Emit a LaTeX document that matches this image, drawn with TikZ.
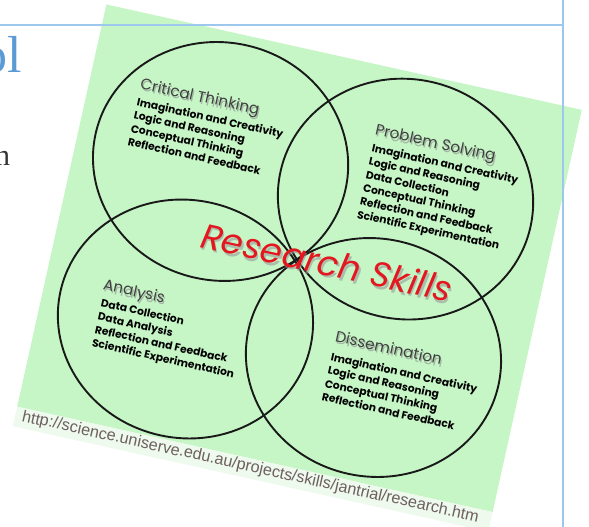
\documentclass[tikz,border=0pt]{standalone}
\usepackage{fontspec}
\setmainfont{Liberation Serif}
\newfontfamily\gothic{Poppins}
\newfontfamily\urlfam{Liberation Sans}
\definecolor{mint}{RGB}{198,246,198}
\definecolor{stripc}{RGB}{238,250,238}
\definecolor{slideline}{RGB}{157,200,238}
\definecolor{titleblue}{RGB}{91,155,213}
\definecolor{urlgray}{RGB}{110,95,96}
\definecolor{skillred}{RGB}{228,22,32}
\begin{document}
\begin{tikzpicture}[x=1pt,y=-1pt,
  circ/.style={draw=black!90, line width=1.9pt},
  ttl/.style={font=\gothic\fontsize{15.3}{18}\selectfont, text=black!75, anchor=north west, inner sep=0pt, transform shape},
  ttlsh/.style={ttl, text=black!45, opacity=0.6},
  items/.style={font=\gothic\bfseries\fontsize{10.7}{13.6}\selectfont, text=black, anchor=north west, align=left, inner sep=0pt, transform shape},
  rsk/.style={font=\gothic\itshape\fontsize{35}{38}\selectfont, transform shape},
  slide/.style={draw=slideline, line width=2pt}]
\useasboundingbox (0,0) rectangle (589,527);
\clip (0,0) rectangle (589,527);
\node[anchor=base west, inner sep=0pt, text=titleblue, font=\fontsize{52}{52}\selectfont] (ol) at (-19,73) {ol};
\node[anchor=base west, inner sep=0pt, text=black!80, font=\fontsize{30}{30}\selectfont] (n) at (-5,165) {n};
\begin{scope}[shift={(299.5,258.25)}, rotate=-12.5]
  \fill[mint] (-243.5,-206) rectangle (243.5,206);
  \fill[stripc] (-243.5,206) rectangle (243.5,226);
  \draw[circ] (-98,-77.4) ellipse [x radius=128pt, y radius=119pt];
  \draw[circ] (90.7,-80.7) ellipse [x radius=128pt, y radius=120pt];
  \draw[circ] (-98.2,84) ellipse [x radius=128pt, y radius=119pt];
  \draw[circ] (93.7,80.9) ellipse [x radius=128pt, y radius=119pt];
  % Research Skills
  \node[rsk, text=black!40, opacity=0.6] (rss) at (29.7,0.2) {Research Skills};
  \node[rsk, text=skillred] (rs) at (27.7,-2.3) {Research Skills};
  % Critical Thinking
  \node[ttlsh] (cts) at (-191.5,-141) {Critical Thinking};
  \node[ttl] (ct) at (-193,-143) {Critical Thinking};
  \node[items] (cti) at (-192.6,-122.5) {Imagination and Creativity\\Logic and Reasoning\\Conceptual Thinking\\Reflection and Feedback};
  % Problem Solving
  \node[ttlsh] (pss) at (47.9,-146.8) {Problem Solving};
  \node[ttl] (ps) at (46.4,-148.8) {Problem Solving};
  \node[items] (psi) at (46.9,-128.4) {Imagination and Creativity\\Logic and Reasoning\\Data Collection\\Conceptual Thinking\\Reflection and Feedback\\Scientific Experimentation};
  % Analysis
  \node[ttlsh] (ans) at (-184.1,63.4) {Analysis};
  \node[ttl] (an) at (-185.6,61.4) {Analysis};
  \node[items] (ani) at (-184.2,81.5) {Data Collection\\Data Analysis\\Reflection and Feedback\\Scientific Experimentation};
  % Dissemination
  \node[ttlsh] (dss) at (53.6,63.9) {Dissemination};
  \node[ttl] (ds) at (52.1,61.9) {Dissemination};
  \node[items] (dsi) at (52,84.5) {Imagination and Creativity\\Logic and Reasoning\\Conceptual Thinking\\Reflection and Feedback};
  % URL
  \node[anchor=west, inner sep=0pt, font=\urlfam\fontsize{16.2}{17}\selectfont, text=urlgray, transform shape] (url) at (-236.5,215) {http://science.uniserve.edu.au/projects/skills/jantrial/research.htm};
\end{scope}
\coordinate (hl1) at (0,25);
\coordinate (hl2) at (563,25);
\coordinate (vl1) at (563,0);
\coordinate (vl2) at (563,527);
\draw[slide] (hl1) -- (hl2);
\draw[slide] (vl1) -- (vl2);
\end{tikzpicture}
\end{document}
